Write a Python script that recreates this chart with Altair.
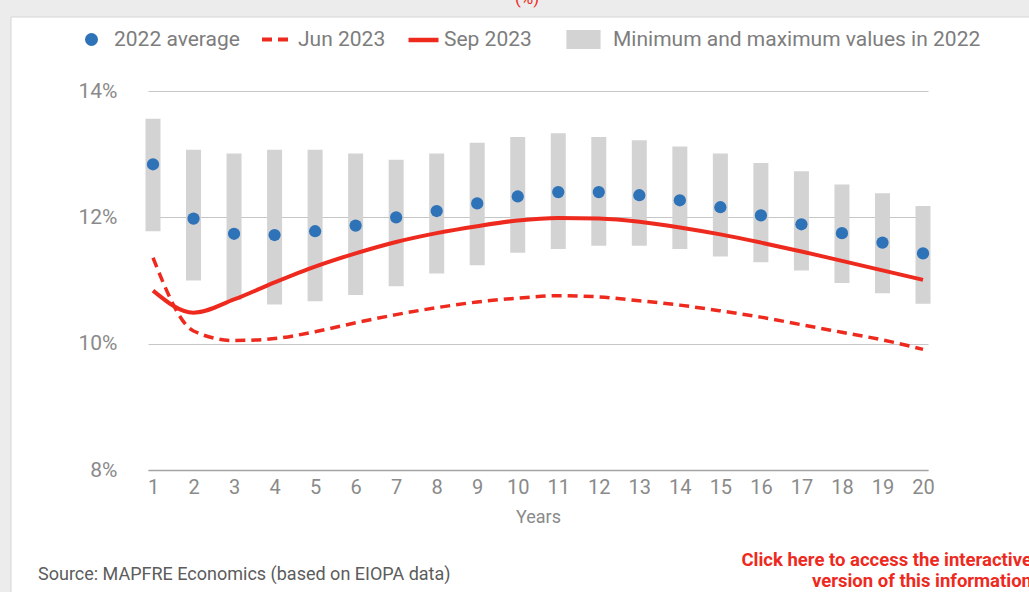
import altair as alt
import pandas as pd

# Term structure by maturity (years), values in %
years = list(range(1, 21))
avg_2022 = [12.84, 11.98, 11.74, 11.72, 11.78, 11.87, 12.00, 12.10, 12.22, 12.33,
            12.40, 12.40, 12.35, 12.27, 12.16, 12.03, 11.89, 11.75, 11.60, 11.43]
min_2022 = [11.78, 11.00, 10.69, 10.62, 10.67, 10.77, 10.91, 11.11, 11.24, 11.44,
            11.50, 11.55, 11.55, 11.50, 11.38, 11.29, 11.16, 10.96, 10.80, 10.63]
max_2022 = [13.56, 13.07, 13.01, 13.07, 13.07, 13.01, 12.91, 13.01, 13.18, 13.27,
            13.33, 13.27, 13.22, 13.12, 13.01, 12.86, 12.73, 12.52, 12.38, 12.18]
jun_2023 = [11.36, 10.20, 10.05, 10.08, 10.19, 10.33, 10.46, 10.57, 10.66, 10.72,
            10.76, 10.74, 10.68, 10.61, 10.52, 10.42, 10.30, 10.18, 10.06, 9.91]
sep_2023 = [10.84, 10.49, 10.70, 10.97, 11.22, 11.43, 11.61, 11.75, 11.86, 11.95,
            11.99, 11.98, 11.93, 11.84, 11.73, 11.60, 11.46, 11.31, 11.16, 11.01]

y_ticks = [8, 10, 12, 14]

FONT = "Roboto"
GREY_TXT = "#8a8a8a"
RED = "#ee2a1f"
BLUE = "#2e72b8"
BAR_GREY = "#d3d3d3"
PAGE_GREY = "#ececec"

df = pd.DataFrame({
    "year": years, "avg": avg_2022, "lo": min_2022, "hi": max_2022,
    "jun": jun_2023, "sep": sep_2023,
})

x_axis = alt.Axis(values=years, format="d", title="Years", grid=False, ticks=False,
                  domain=True, domainColor="#a3a3a3", domainWidth=1.5,
                  labelPadding=7, labelFontSize=20, labelColor=GREY_TXT, labelFont=FONT,
                  titleFontSize=18, titleFontWeight="normal", titleColor=GREY_TXT,
                  titleFont=FONT, titlePadding=11)
y_axis = alt.Axis(values=y_ticks, labelExpr="datum.value + '%'", title=None,
                  grid=True, gridColor="#c6c6c6", gridWidth=1.2, domain=False, ticks=False,
                  labelPadding=31, labelFontSize=21, labelColor=GREY_TXT, labelFont=FONT)

X = alt.X("year:Q", scale=alt.Scale(domain=[1, 20], nice=False, zero=False), axis=x_axis)
Y_SCALE = alt.Scale(domain=[8, 14], nice=False, zero=False)


def legend(x, y, symbol, size, offset=5, **kw):
    return alt.Legend(orient="none", legendX=x, legendY=y, title=None, padding=0,
                      symbolType=symbol, symbolSize=size, labelOffset=offset,
                      labelLimit=0, labelFontSize=21, labelColor="#7d7d7d",
                      labelFont=FONT, **kw)


one = pd.DataFrame({"a": [0]})

# page margin around the white card (top strip and left strip)
strip_top = alt.Chart(one).mark_rect(fill=PAGE_GREY).encode(
    x=alt.value(-148), x2=alt.value(881), y=alt.value(-91), y2=alt.value(-74))
strip_left = alt.Chart(one).mark_rect(fill=PAGE_GREY).encode(
    x=alt.value(-148), x2=alt.value(-137), y=alt.value(-74), y2=alt.value(501))
edge_top = alt.Chart(one).mark_rule(color="#d6d6d6", strokeWidth=1).encode(
    x=alt.value(-137), x2=alt.value(881), y=alt.value(-74))
edge_left = alt.Chart(one).mark_rule(color="#d6d6d6", strokeWidth=1).encode(
    x=alt.value(-137), y=alt.value(-74), y2=alt.value(501))

unit = alt.Chart(pd.DataFrame({"t": ["(%)"]})).mark_text(
    font=FONT, fontSize=17, color=RED, align="center", baseline="alphabetic"
).encode(x=alt.value(379), y=alt.value(-87), text="t:N")

source = alt.Chart(pd.DataFrame({"t": ["Source: MAPFRE Economics (based on EIOPA data)"]})).mark_text(
    font=FONT, fontSize=18, color="#5c5c5c", align="left", baseline="middle"
).encode(x=alt.value(-110), y=alt.value(484), text="t:N")

link = alt.Chart(pd.DataFrame({"t": ["Click here to access the interactive\nversion of this information"]})).mark_text(
    font=FONT, fontSize=18.5, fontWeight="bold", color=RED, align="right", baseline="middle",
    lineBreak="\n", lineHeight=21
).encode(x=alt.value(884), y=alt.value(468.5), text="t:N")

base = alt.Chart(df)

bars = base.transform_calculate(k="'Minimum and maximum values in 2022'").mark_bar(
    size=15, color=BAR_GREY
).encode(
    x=X,
    y=alt.Y("lo:Q", scale=Y_SCALE, axis=y_axis),
    y2="hi:Q",
    color=alt.Color("k:N", scale=alt.Scale(range=[BAR_GREY]),
                    legend=legend(425, -62, "M-1.8,-1H1.8V1H-1.8Z", 361, offset=19)),
)

jun = base.transform_calculate(k="'Jun 2023'").mark_line(
    strokeWidth=3.5, strokeDash=[10, 6], interpolate="monotone"
).encode(
    x=X,
    y=alt.Y("jun:Q", scale=Y_SCALE, axis=y_axis),
    color=alt.Color("k:N", scale=alt.Scale(range=[RED]),
                    legend=legend(112, -68.5, "stroke", 900, offset=4,
                                  symbolDash=[10, 6], symbolStrokeWidth=4)),
)

sep = base.transform_calculate(k="'Sep 2023'").mark_line(
    strokeWidth=4, interpolate="monotone"
).encode(
    x=X,
    y=alt.Y("sep:Q", scale=Y_SCALE, axis=y_axis),
    color=alt.Color("k:N", scale=alt.Scale(range=[RED]),
                    legend=legend(258, -68.5, "stroke", 900, offset=3, symbolStrokeWidth=4.5)),
)

dots = base.transform_calculate(k="'2022 average'").mark_circle(
    size=150, opacity=1
).encode(
    x=X,
    y=alt.Y("avg:Q", scale=Y_SCALE, axis=y_axis),
    color=alt.Color("k:N", scale=alt.Scale(range=[BLUE]),
                    legend=legend(-67, -62, "circle", 169, offset=12)),
)

chart = alt.layer(
    strip_top, strip_left, edge_top, edge_left, unit, source, link,
    bars, jun, sep, dots
).resolve_scale(
    color="independent"
).properties(
    width=780, height=379,
    autosize=alt.AutoSizeParams(type="none"),
    padding={"left": 148, "top": 91, "right": 101, "bottom": 122},
    background="white",
).configure_view(stroke=None)

chart.save("out.html", embed_options={"renderer": "svg", "actions": False})
